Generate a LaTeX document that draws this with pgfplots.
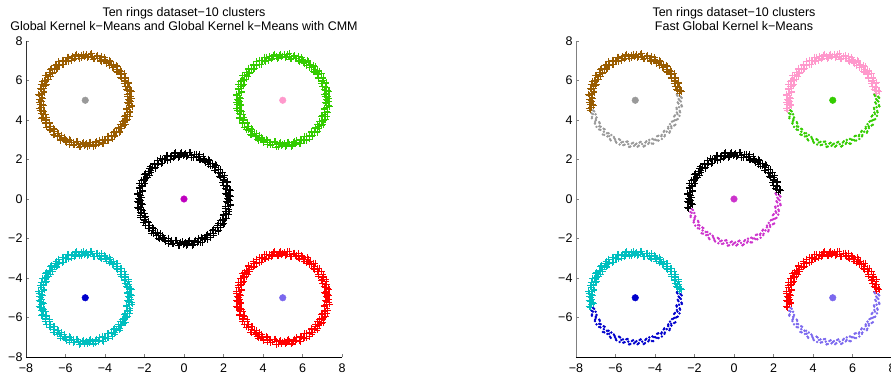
\documentclass[border=0pt]{standalone}
\usepackage{fontspec}
\setmainfont{Liberation Sans}
\usepackage{pgfplots}
\usepackage{pgfplotstable}
\pgfplotsset{compat=1.18}

\definecolor{cbrown}{HTML}{995C00}
\definecolor{cgray}{HTML}{999999}
\definecolor{cgreen}{HTML}{33CC00}
\definecolor{cpink}{HTML}{FF99CC}
\definecolor{cmag}{HTML}{BF00BF}
\definecolor{cmagl}{HTML}{CC33CC}
\definecolor{ccyan}{HTML}{00BFBF}
\definecolor{cblue}{HTML}{0000CC}
\definecolor{cred}{HTML}{FF0000}
\definecolor{cpurp}{HTML}{7B68EE}

% upper part of each ring (x0,y0: ring at 0,0; xp/xm: x+5 / x-5; yp/ym: y+5 / y-5)
\pgfplotstableread{
x0 y0 xp xm yp ym
2.22 0.35 7.22 -2.78 5.35 -4.65
2.30 0.49 7.30 -2.70 5.49 -4.51
2.08 0.56 7.08 -2.92 5.56 -4.44
2.14 0.70 7.14 -2.86 5.70 -4.30
2.19 0.84 7.19 -2.81 5.84 -4.16
1.96 0.87 6.96 -3.04 5.87 -4.13
2.00 1.02 7.00 -3.00 6.02 -3.98
2.04 1.18 7.04 -2.96 6.18 -3.82
1.80 1.17 6.80 -3.20 6.17 -3.83
1.82 1.32 6.82 -3.18 6.32 -3.68
1.83 1.48 6.83 -3.17 6.48 -3.52
1.60 1.44 6.60 -3.40 6.44 -3.56
1.59 1.59 6.59 -3.41 6.59 -3.41
1.57 1.75 6.57 -3.43 6.75 -3.25
1.35 1.67 6.35 -3.65 6.67 -3.33
1.32 1.82 6.32 -3.68 6.82 -3.18
1.28 1.97 6.28 -3.72 6.97 -3.03
1.08 1.86 6.08 -3.92 6.86 -3.14
1.02 2.00 6.02 -3.98 7.00 -3.00
0.96 2.15 5.96 -4.04 7.15 -2.85
0.77 2.01 5.77 -4.23 7.01 -2.99
0.70 2.14 5.70 -4.30 7.14 -2.86
0.61 2.27 5.61 -4.39 7.27 -2.73
0.45 2.10 5.45 -4.55 7.10 -2.90
0.35 2.22 5.35 -4.65 7.22 -2.78
0.25 2.34 5.25 -4.75 7.34 -2.66
0.11 2.15 5.11 -4.89 7.15 -2.85
0.00 2.25 5.00 -5.00 7.25 -2.75
-0.12 2.35 4.88 -5.12 7.35 -2.65
-0.22 2.14 4.78 -5.22 7.14 -2.86
-0.35 2.22 4.65 -5.35 7.22 -2.78
-0.49 2.30 4.51 -5.49 7.30 -2.70
-0.56 2.08 4.44 -5.56 7.08 -2.92
-0.70 2.14 4.30 -5.70 7.14 -2.86
-0.84 2.19 4.16 -5.84 7.19 -2.81
-0.87 1.96 4.13 -5.87 6.96 -3.04
-1.02 2.00 3.98 -6.02 7.00 -3.00
-1.18 2.04 3.82 -6.18 7.04 -2.96
-1.17 1.80 3.83 -6.17 6.80 -3.20
-1.32 1.82 3.68 -6.32 6.82 -3.18
-1.48 1.83 3.52 -6.48 6.83 -3.17
-1.44 1.60 3.56 -6.44 6.60 -3.40
-1.59 1.59 3.41 -6.59 6.59 -3.41
-1.75 1.57 3.25 -6.75 6.57 -3.43
-1.67 1.35 3.33 -6.67 6.35 -3.65
-1.82 1.32 3.18 -6.82 6.32 -3.68
-1.97 1.28 3.03 -6.97 6.28 -3.72
-1.86 1.08 3.14 -6.86 6.08 -3.92
-2.00 1.02 3.00 -7.00 6.02 -3.98
-2.15 0.96 2.85 -7.15 5.96 -4.04
-2.01 0.77 2.99 -7.01 5.77 -4.23
-2.14 0.70 2.86 -7.14 5.70 -4.30
-2.27 0.61 2.73 -7.27 5.61 -4.39
-2.10 0.45 2.90 -7.10 5.45 -4.55
-2.22 0.35 2.78 -7.22 5.35 -4.65
-2.34 0.25 2.66 -7.34 5.25 -4.75
-2.15 0.11 2.85 -7.15 5.11 -4.89
-2.25 0.00 2.75 -7.25 5.00 -5.00
-2.35 -0.12 2.65 -7.35 4.88 -5.12
-2.14 -0.22 2.86 -7.14 4.78 -5.22
-2.22 -0.35 2.78 -7.22 4.65 -5.35
-2.30 -0.49 2.70 -7.30 4.51 -5.49
2.34 0.43 7.34 -2.66 5.43 -4.57
2.14 0.51 7.14 -2.86 5.51 -4.49
2.21 0.66 7.21 -2.79 5.66 -4.34
2.01 0.71 7.01 -2.99 5.71 -4.29
2.20 0.91 7.20 -2.80 5.91 -4.09
1.99 0.95 6.99 -3.01 5.95 -4.05
2.03 1.10 7.03 -2.97 6.10 -3.90
1.82 1.11 6.82 -3.18 6.11 -3.89
1.96 1.35 6.96 -3.04 6.35 -3.65
1.75 1.34 6.75 -3.25 6.34 -3.66
1.76 1.50 6.76 -3.24 6.50 -3.50
1.55 1.47 6.55 -3.45 6.47 -3.53
1.64 1.73 6.64 -3.36 6.73 -3.27
1.43 1.67 6.43 -3.57 6.67 -3.33
1.41 1.83 6.41 -3.59 6.83 -3.17
1.21 1.76 6.21 -3.79 6.76 -3.24
1.24 2.03 6.24 -3.76 7.03 -2.97
1.05 1.93 6.05 -3.95 6.93 -3.07
0.99 2.08 5.99 -4.01 7.08 -2.92
0.82 1.97 5.82 -4.18 6.97 -3.03
0.79 2.24 5.79 -4.21 7.24 -2.76
0.62 2.11 5.62 -4.38 7.11 -2.89
0.54 2.25 5.54 -4.46 7.25 -2.75
0.39 2.09 5.39 -4.61 7.09 -2.91
0.31 2.36 5.31 -4.69 7.36 -2.64
0.17 2.19 5.17 -4.83 7.19 -2.81
0.06 2.31 5.06 -4.94 7.31 -2.69
-0.06 2.20 4.94 -5.06 7.20 -2.80
-0.18 2.30 4.82 -5.18 7.30 -2.70
-0.28 2.11 4.72 -5.28 7.11 -2.89
-0.43 2.34 4.57 -5.43 7.34 -2.66
-0.51 2.14 4.49 -5.51 7.14 -2.86
-0.66 2.21 4.34 -5.66 7.21 -2.79
-0.71 2.01 4.29 -5.71 7.01 -2.99
-0.91 2.20 4.09 -5.91 7.20 -2.80
-0.95 1.99 4.05 -5.95 6.99 -3.01
-1.10 2.03 3.90 -6.10 7.03 -2.97
-1.11 1.82 3.89 -6.11 6.82 -3.18
-1.35 1.96 3.65 -6.35 6.96 -3.04
-1.34 1.75 3.66 -6.34 6.75 -3.25
-1.50 1.76 3.50 -6.50 6.76 -3.24
-1.47 1.55 3.53 -6.47 6.55 -3.45
-1.73 1.64 3.27 -6.73 6.64 -3.36
-1.67 1.43 3.33 -6.67 6.43 -3.57
-1.83 1.41 3.17 -6.83 6.41 -3.59
-1.76 1.21 3.24 -6.76 6.21 -3.79
-2.03 1.24 2.97 -7.03 6.24 -3.76
-1.93 1.05 3.07 -6.93 6.05 -3.95
-2.08 0.99 2.92 -7.08 5.99 -4.01
-1.97 0.82 3.03 -6.97 5.82 -4.18
-2.24 0.79 2.76 -7.24 5.79 -4.21
-2.11 0.62 2.89 -7.11 5.62 -4.38
-2.25 0.54 2.75 -7.25 5.54 -4.46
-2.09 0.39 2.91 -7.09 5.39 -4.61
-2.36 0.31 2.64 -7.36 5.31 -4.69
-2.19 0.17 2.81 -7.19 5.17 -4.83
-2.31 0.06 2.69 -7.31 5.06 -4.94
-2.20 -0.06 2.80 -7.20 4.94 -5.06
-2.30 -0.18 2.70 -7.30 4.82 -5.18
-2.11 -0.28 2.89 -7.11 4.72 -5.28
-2.34 -0.43 2.66 -7.34 4.57 -5.43
}\plustab

% lower part of each ring
\pgfplotstableread{
x0 y0 xp xm yp ym
-2.08 -0.56 2.92 -7.08 4.44 -5.56
-2.14 -0.70 2.86 -7.14 4.30 -5.70
-2.19 -0.84 2.81 -7.19 4.16 -5.84
-1.96 -0.87 3.04 -6.96 4.13 -5.87
-2.00 -1.02 3.00 -7.00 3.98 -6.02
-2.04 -1.18 2.96 -7.04 3.82 -6.18
-1.80 -1.17 3.20 -6.80 3.83 -6.17
-1.82 -1.32 3.18 -6.82 3.68 -6.32
-1.83 -1.48 3.17 -6.83 3.52 -6.48
-1.60 -1.44 3.40 -6.60 3.56 -6.44
-1.59 -1.59 3.41 -6.59 3.41 -6.59
-1.57 -1.75 3.43 -6.57 3.25 -6.75
-1.35 -1.67 3.65 -6.35 3.33 -6.67
-1.32 -1.82 3.68 -6.32 3.18 -6.82
-1.28 -1.97 3.72 -6.28 3.03 -6.97
-1.08 -1.86 3.92 -6.08 3.14 -6.86
-1.02 -2.00 3.98 -6.02 3.00 -7.00
-0.96 -2.15 4.04 -5.96 2.85 -7.15
-0.77 -2.01 4.23 -5.77 2.99 -7.01
-0.70 -2.14 4.30 -5.70 2.86 -7.14
-0.61 -2.27 4.39 -5.61 2.73 -7.27
-0.45 -2.10 4.55 -5.45 2.90 -7.10
-0.35 -2.22 4.65 -5.35 2.78 -7.22
-0.25 -2.34 4.75 -5.25 2.66 -7.34
-0.11 -2.15 4.89 -5.11 2.85 -7.15
0.00 -2.25 5.00 -5.00 2.75 -7.25
0.12 -2.35 5.12 -4.88 2.65 -7.35
0.22 -2.14 5.22 -4.78 2.86 -7.14
0.35 -2.22 5.35 -4.65 2.78 -7.22
0.49 -2.30 5.49 -4.51 2.70 -7.30
0.56 -2.08 5.56 -4.44 2.92 -7.08
0.70 -2.14 5.70 -4.30 2.86 -7.14
0.84 -2.19 5.84 -4.16 2.81 -7.19
0.87 -1.96 5.87 -4.13 3.04 -6.96
1.02 -2.00 6.02 -3.98 3.00 -7.00
1.18 -2.04 6.18 -3.82 2.96 -7.04
1.17 -1.80 6.17 -3.83 3.20 -6.80
1.32 -1.82 6.32 -3.68 3.18 -6.82
1.48 -1.83 6.48 -3.52 3.17 -6.83
1.44 -1.60 6.44 -3.56 3.40 -6.60
1.59 -1.59 6.59 -3.41 3.41 -6.59
1.75 -1.57 6.75 -3.25 3.43 -6.57
1.67 -1.35 6.67 -3.33 3.65 -6.35
1.82 -1.32 6.82 -3.18 3.68 -6.32
1.97 -1.28 6.97 -3.03 3.72 -6.28
1.86 -1.08 6.86 -3.14 3.92 -6.08
2.00 -1.02 7.00 -3.00 3.98 -6.02
2.15 -0.96 7.15 -2.85 4.04 -5.96
2.01 -0.77 7.01 -2.99 4.23 -5.77
2.14 -0.70 7.14 -2.86 4.30 -5.70
2.27 -0.61 7.27 -2.73 4.39 -5.61
2.10 -0.45 7.10 -2.90 4.55 -5.45
2.22 -0.35 7.22 -2.78 4.65 -5.35
2.34 -0.25 7.34 -2.66 4.75 -5.25
2.15 -0.11 7.15 -2.85 4.89 -5.11
2.25 0.00 7.25 -2.75 5.00 -5.00
2.35 0.12 7.35 -2.65 5.12 -4.88
2.14 0.22 7.14 -2.86 5.22 -4.78
-2.14 -0.51 2.86 -7.14 4.49 -5.51
-2.21 -0.66 2.79 -7.21 4.34 -5.66
-2.01 -0.71 2.99 -7.01 4.29 -5.71
-2.20 -0.91 2.80 -7.20 4.09 -5.91
-1.99 -0.95 3.01 -6.99 4.05 -5.95
-2.03 -1.10 2.97 -7.03 3.90 -6.10
-1.82 -1.11 3.18 -6.82 3.89 -6.11
-1.96 -1.35 3.04 -6.96 3.65 -6.35
-1.75 -1.34 3.25 -6.75 3.66 -6.34
-1.76 -1.50 3.24 -6.76 3.50 -6.50
-1.55 -1.47 3.45 -6.55 3.53 -6.47
-1.64 -1.73 3.36 -6.64 3.27 -6.73
-1.43 -1.67 3.57 -6.43 3.33 -6.67
-1.41 -1.83 3.59 -6.41 3.17 -6.83
-1.21 -1.76 3.79 -6.21 3.24 -6.76
-1.24 -2.03 3.76 -6.24 2.97 -7.03
-1.05 -1.93 3.95 -6.05 3.07 -6.93
-0.99 -2.08 4.01 -5.99 2.92 -7.08
-0.82 -1.97 4.18 -5.82 3.03 -6.97
-0.79 -2.24 4.21 -5.79 2.76 -7.24
-0.62 -2.11 4.38 -5.62 2.89 -7.11
-0.54 -2.25 4.46 -5.54 2.75 -7.25
-0.39 -2.09 4.61 -5.39 2.91 -7.09
-0.31 -2.36 4.69 -5.31 2.64 -7.36
-0.17 -2.19 4.83 -5.17 2.81 -7.19
-0.06 -2.31 4.94 -5.06 2.69 -7.31
0.06 -2.20 5.06 -4.94 2.80 -7.20
0.18 -2.30 5.18 -4.82 2.70 -7.30
0.28 -2.11 5.28 -4.72 2.89 -7.11
0.43 -2.34 5.43 -4.57 2.66 -7.34
0.51 -2.14 5.51 -4.49 2.86 -7.14
0.66 -2.21 5.66 -4.34 2.79 -7.21
0.71 -2.01 5.71 -4.29 2.99 -7.01
0.91 -2.20 5.91 -4.09 2.80 -7.20
0.95 -1.99 5.95 -4.05 3.01 -6.99
1.10 -2.03 6.10 -3.90 2.97 -7.03
1.11 -1.82 6.11 -3.89 3.18 -6.82
1.35 -1.96 6.35 -3.65 3.04 -6.96
1.34 -1.75 6.34 -3.66 3.25 -6.75
1.50 -1.76 6.50 -3.50 3.24 -6.76
1.47 -1.55 6.47 -3.53 3.45 -6.55
1.73 -1.64 6.73 -3.27 3.36 -6.64
1.67 -1.43 6.67 -3.33 3.57 -6.43
1.83 -1.41 6.83 -3.17 3.59 -6.41
1.76 -1.21 6.76 -3.24 3.79 -6.21
2.03 -1.24 7.03 -2.97 3.76 -6.24
1.93 -1.05 6.93 -3.07 3.95 -6.05
2.08 -0.99 7.08 -2.92 4.01 -5.99
1.97 -0.82 6.97 -3.03 4.18 -5.82
2.24 -0.79 7.24 -2.76 4.21 -5.79
2.11 -0.62 7.11 -2.89 4.38 -5.62
2.25 -0.54 7.25 -2.75 4.46 -5.54
2.09 -0.39 7.09 -2.91 4.61 -5.39
2.36 -0.31 7.36 -2.64 4.69 -5.31
2.19 -0.17 7.19 -2.81 4.83 -5.17
2.31 -0.06 7.31 -2.69 4.94 -5.06
2.20 0.06 7.20 -2.80 5.06 -4.94
2.30 0.18 7.30 -2.70 5.18 -4.82
2.11 0.28 7.11 -2.89 5.28 -4.72
}\dottab

\pgfplotsset{
  ringax/.style={
    scale only axis, width=316pt, height=316pt,
    xmin=-8, xmax=8, ymin=-8, ymax=8,
    axis x line=bottom, axis y line=left,
    x axis line style={-, line width=0.8pt},
    tick align=inside, major tick length=3pt,
    tick style={line width=0.6pt},
    xtick={-8,-6,...,8},
    xticklabels={−8,−6,−4,−2,0,2,4,6,8},
    ticklabel style={font=\fontsize{12.5}{14}\selectfont},
    xticklabel style={yshift=-3pt},
    title style={at={(0.5,1)}, anchor=south, inner sep=0pt, yshift=4pt,
      align=center, font=\fontsize{12.5}{14}\selectfont},
    clip=false,
  },
  pl/.style={only marks, mark=+, mark size=3.3pt, color=#1, mark options={draw=#1, line width=0.6pt}},
  dt/.style={only marks, mark=*, mark size=1pt, color=#1},
  ctr/.style={only marks, mark=*, mark size=3.3pt, color=#1},
}

\begin{document}
\begin{tikzpicture}
\useasboundingbox (0,0) rectangle (891pt,381pt);

\begin{axis}[ringax, at={(26pt,24pt)}, anchor=south west,
  y axis line style={-, line width=0.8pt, color=black!80},
  ytick={-8,-6,...,8},
  yticklabels={−8,−6,−4,−2,0,2,4,6,8},
  title={Ten rings dataset−10 clusters\\Global Kernel k−Means and Global Kernel k−Means with CMM}]
\addplot[pl=cbrown] table[x=xm,y=yp] {\plustab};
\addplot[pl=cbrown] table[x=xm,y=yp] {\dottab};
\addplot[pl=cgreen] table[x=xp,y=yp] {\plustab};
\addplot[pl=cgreen] table[x=xp,y=yp] {\dottab};
\addplot[pl=black] table[x=x0,y=y0] {\plustab};
\addplot[pl=black] table[x=x0,y=y0] {\dottab};
\addplot[pl=ccyan] table[x=xm,y=ym] {\plustab};
\addplot[pl=ccyan] table[x=xm,y=ym] {\dottab};
\addplot[pl=cred] table[x=xp,y=ym] {\plustab};
\addplot[pl=cred] table[x=xp,y=ym] {\dottab};
\addplot[ctr=cgray] coordinates {(-5,5)};
\addplot[ctr=cpink] coordinates {(5,5)};
\addplot[ctr=cmag] coordinates {(0,0)};
\addplot[ctr=cblue] coordinates {(-5,-5)};
\addplot[ctr=cpurp] coordinates {(5,-5)};
\end{axis}

\begin{axis}[ringax, at={(576pt,24pt)}, anchor=south west,
  y axis line style={-, line width=0.8pt, color=black!50},
  ytick style={color=black!50},
  ytick={-6,-4,...,8},
  yticklabels={−6,−4,−2,0,2,4,6,8},
  title={Ten rings dataset−10 clusters\\Fast Global Kernel k−Means}]
\addplot[pl=cbrown] table[x=xm,y=yp] {\plustab};
\addplot[dt=cgray] table[x=xm,y=yp] {\dottab};
\addplot[pl=cpink] table[x=xp,y=yp] {\plustab};
\addplot[dt=cgreen] table[x=xp,y=yp] {\dottab};
\addplot[pl=black] table[x=x0,y=y0] {\plustab};
\addplot[dt=cmagl] table[x=x0,y=y0] {\dottab};
\addplot[pl=ccyan] table[x=xm,y=ym] {\plustab};
\addplot[dt=cblue] table[x=xm,y=ym] {\dottab};
\addplot[pl=cred] table[x=xp,y=ym] {\plustab};
\addplot[dt=cpurp] table[x=xp,y=ym] {\dottab};
\addplot[ctr=cgray] coordinates {(-5,5)};
\addplot[ctr=cgreen] coordinates {(5,5)};
\addplot[ctr=cmagl] coordinates {(0,0)};
\addplot[ctr=cblue] coordinates {(-5,-5)};
\addplot[ctr=cpurp] coordinates {(5,-5)};
\end{axis}
\end{tikzpicture}
\end{document}
